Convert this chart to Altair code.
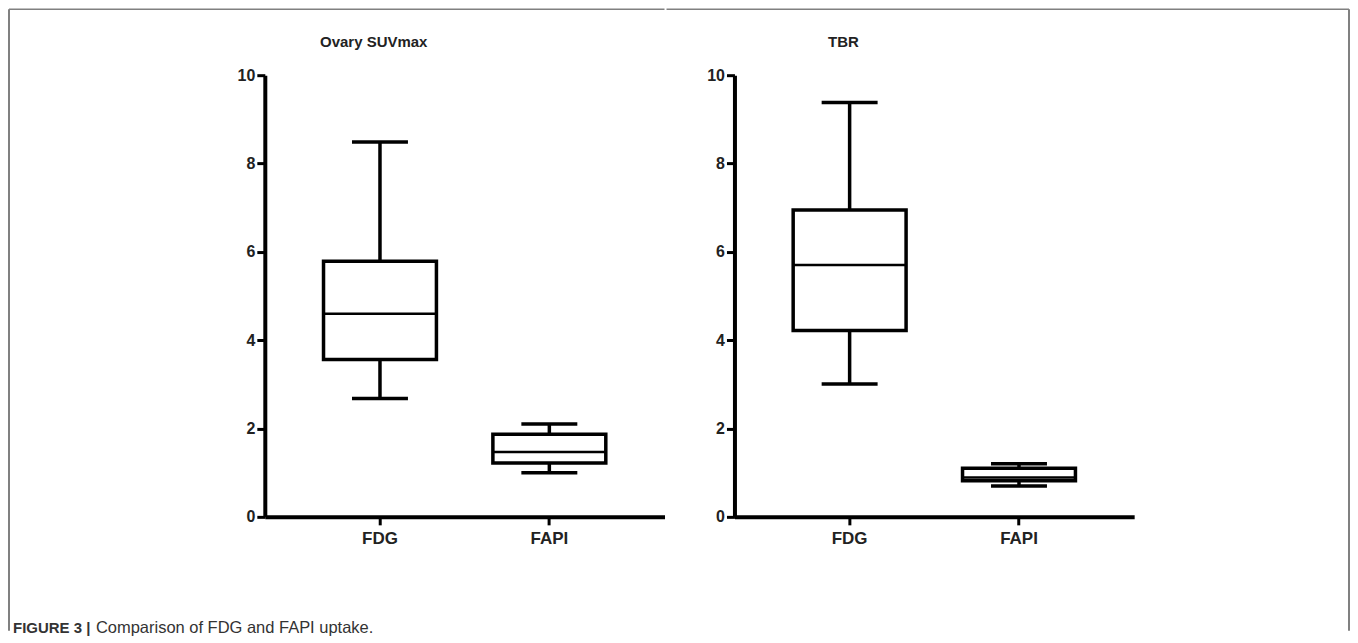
import altair as alt
import pandas as pd

groups = ["FDG", "FAPI"]

suv_low = [2.68, 1.00]
suv_q1 = [3.56, 1.22]
suv_med = [4.60, 1.47]
suv_q3 = [5.79, 1.87]
suv_high = [8.49, 2.10]

tbr_low = [3.01, 0.70]
tbr_q1 = [4.22, 0.82]
tbr_med = [5.70, 0.89]
tbr_q3 = [6.95, 1.10]
tbr_high = [9.38, 1.20]

y_ticks = [0, 2, 4, 6, 8, 10]

FONT = "Liberation Sans"
W, H = 400, 442
BOXW = 113
CAPW = 56


def panel(title, low, q1, med, q3, high, frame_left, frame_right, with_caption):
    df = pd.DataFrame({"group": groups, "low": low, "q1": q1, "med": med,
                       "q3": q3, "high": high})
    base = alt.Chart(df)
    x = alt.X("group:N", sort=groups, title=None,
              scale=alt.Scale(type="band", paddingInner=0, paddingOuter=0.18),
              axis=alt.Axis(labelAngle=0, labelFont=FONT, labelFontWeight="bold",
                            labelFontSize=17, labelColor="#222", labelPadding=6,
                            tickSize=8, tickWidth=3, tickColor="black",
                            domainWidth=4, domainColor="black"))
    yscale = alt.Scale(domain=[0, 10], nice=False, zero=True)
    yaxis = alt.Axis(values=y_ticks, title=None, grid=False, labelFont=FONT,
                     labelFontWeight="bold", labelFontSize=16, labelColor="#222",
                     labelPadding=2, tickSize=8, tickWidth=3, tickColor="black",
                     domainWidth=4, domainColor="black")
    lower = base.mark_rule(color="black", strokeWidth=3.5).encode(
        x=x, y=alt.Y("low:Q", scale=yscale, axis=yaxis), y2="q1:Q")
    upper = base.mark_rule(color="black", strokeWidth=3.5).encode(
        x=x, y=alt.Y("q3:Q", scale=yscale, axis=yaxis), y2="high:Q")
    box = base.mark_bar(size=BOXW, fill="white", stroke="black",
                        strokeWidth=3.5).encode(
        x=x, y=alt.Y("q1:Q", scale=yscale, axis=yaxis), y2="q3:Q")
    median = base.mark_tick(size=BOXW, thickness=2.5, color="black",
                            opacity=1).encode(
        x=x, y=alt.Y("med:Q", scale=yscale, axis=yaxis))
    cap_lo = base.mark_tick(size=CAPW, thickness=3.5, color="black",
                            opacity=1).encode(
        x=x, y=alt.Y("low:Q", scale=yscale, axis=yaxis))
    cap_hi = base.mark_tick(size=CAPW, thickness=3.5, color="black",
                            opacity=1).encode(
        x=x, y=alt.Y("high:Q", scale=yscale, axis=yaxis))

    deco = alt.Chart(pd.DataFrame({"k": [0]}))
    frame_color = "#808080"
    top = deco.mark_rule(color=frame_color, strokeWidth=1.5).encode(
        x=alt.value(frame_left), x2=alt.value(frame_right), y=alt.value(-66))
    ttl = deco.mark_text(text=title, font=FONT, fontWeight="bold", fontSize=15,
                         color="#222", align="center", baseline="middle").encode(
        x=alt.value(109), y=alt.value(-33))
    layers = [lower, upper, box, median, cap_lo, cap_hi, top, ttl]
    if with_caption:
        left = deco.mark_rule(color=frame_color, strokeWidth=2).encode(
            x=alt.value(frame_left), y=alt.value(-66), y2=alt.value(556))
        cap1 = deco.mark_text(text="FIGURE 3 |", font=FONT, fontWeight="bold",
                              fontSize=15, color="#333", align="left",
                              baseline="middle").encode(
            x=alt.value(-252), y=alt.value(553))
        cap2 = deco.mark_text(text="Comparison of FDG and FAPI uptake.", font=FONT,
                              fontSize=16.5, color="#333", align="left",
                              baseline="middle").encode(
            x=alt.value(-169), y=alt.value(553))
        layers += [left, cap1, cap2]
    else:
        right = deco.mark_rule(color=frame_color, strokeWidth=2).encode(
            x=alt.value(frame_right), y=alt.value(-66), y2=alt.value(556))
        layers += [right]
    return alt.layer(*layers).properties(width=W, height=H)


left_panel = panel("Ovary SUVmax", suv_low, suv_q1, suv_med, suv_q3, suv_high,
                   -256, 400, True)
right_panel = panel("TBR", tbr_low, tbr_q1, tbr_med, tbr_q3, tbr_high,
                    -68, 615, False)

chart = alt.hconcat(left_panel, right_panel, spacing=0).properties(
    padding=0, background="white"
).configure_view(stroke=None)

chart.save("out.html", embed_options={"renderer": "svg", "actions": False})
